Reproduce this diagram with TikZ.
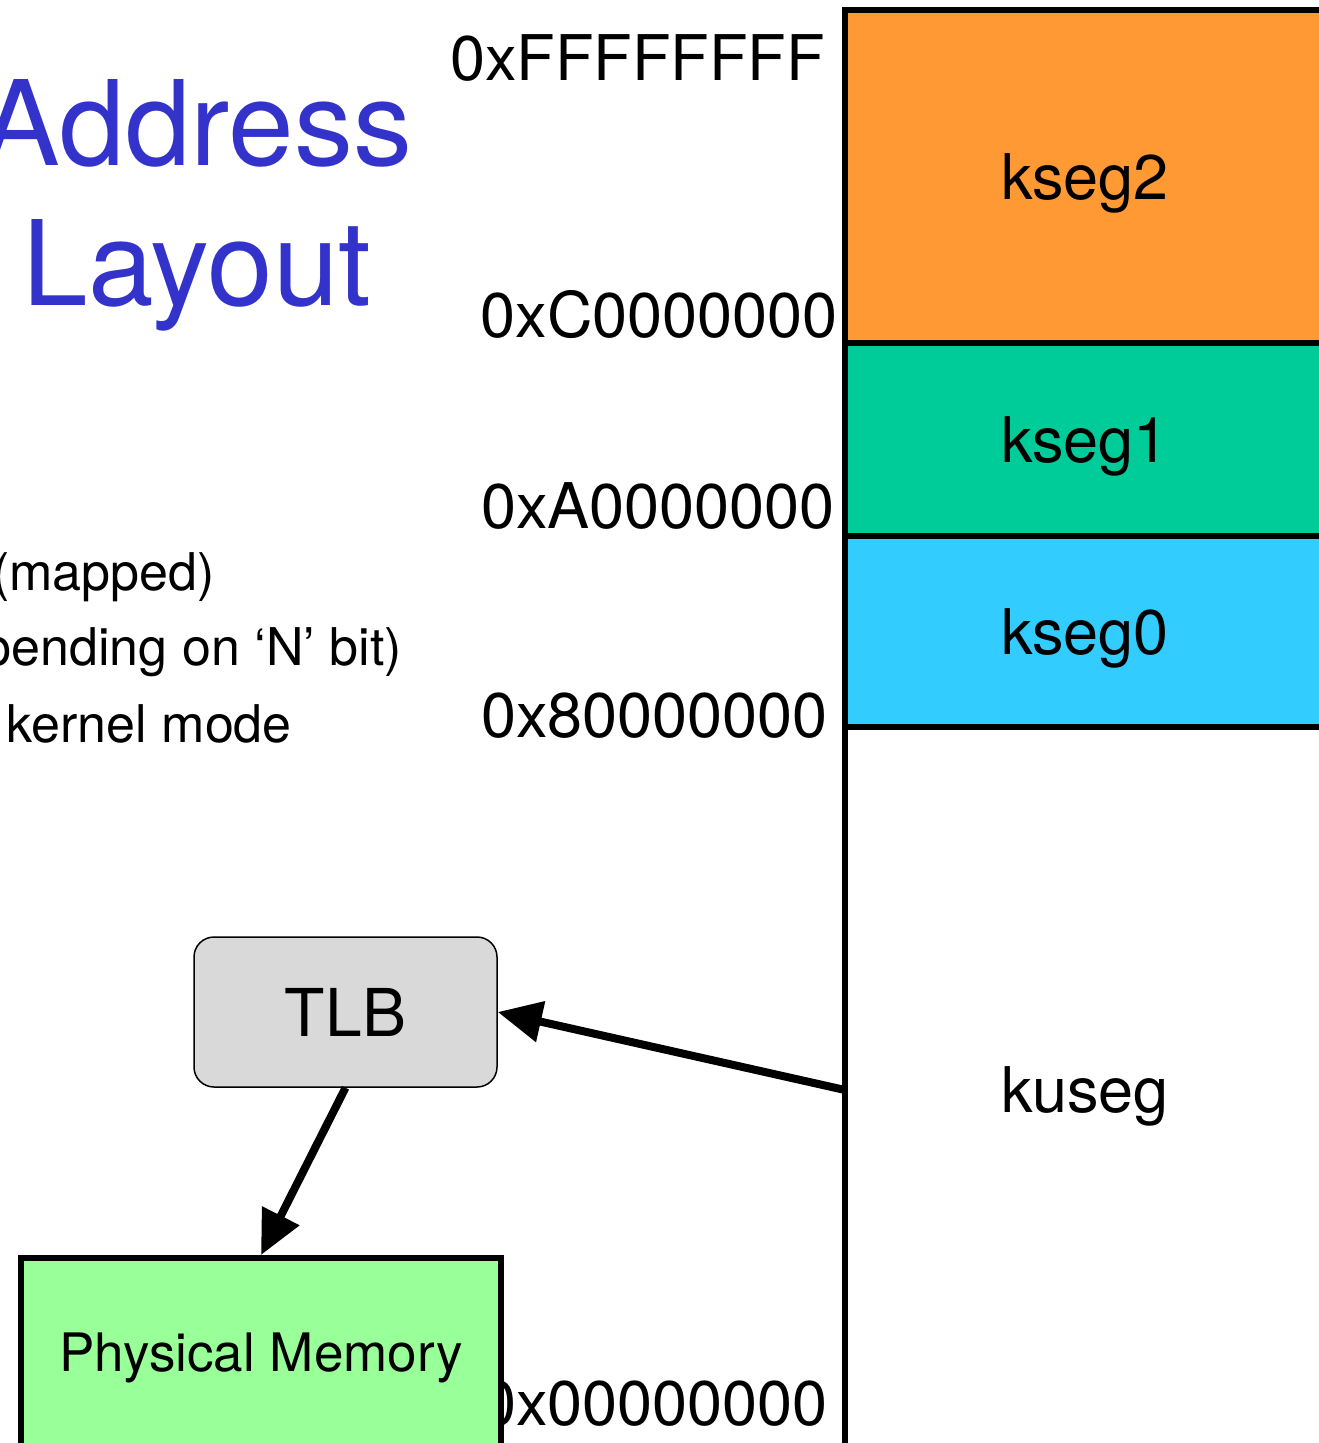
\documentclass[tikz,border=0pt]{standalone}
\usepackage{fontspec}
\setmainfont{TeX Gyre Heros}
\usepackage{tikz}
\usetikzlibrary{positioning,arrows.meta}
\usepackage{xcolor}
\definecolor{segtwo}{HTML}{FF9933}
\definecolor{segone}{HTML}{00CC99}
\definecolor{segzero}{HTML}{33CCFF}
\definecolor{tlbgray}{HTML}{D9D9D9}
\definecolor{physgreen}{HTML}{99FF99}
\definecolor{titleblue}{HTML}{3333CC}

\begin{document}
\begin{tikzpicture}[%
    x=1pt,
    y=-1pt,
    >={Triangle[length=44pt,width=40pt]},
    node distance=0pt,
    seg/.style={%
      rectangle,
      draw,
      line width=6pt,
      outer sep=0pt,
      text depth=0pt,
      minimum width=480pt,
      font=\fontsize{63}{75}\selectfont
    },
    addr/.style={%
      anchor=base east,
      inner sep=0pt,
      font=\fontsize{63}{75}\selectfont
    },
    note/.style={%
      anchor=base east,
      inner sep=0pt,
      font=\fontsize{52}{62}\selectfont
    },
    arr/.style={%
      ->,
      line width=8pt
    }
  ]
    \useasboundingbox (0,0) rectangle (1319,1443);

    % memory map
    \node[seg, fill=segtwo, minimum height=333pt, anchor=north west] (kseg2) at (845,10) {kseg2};
    \node[seg, fill=segone, minimum height=193pt] (kseg1) [below=of kseg2] {kseg1};
    \node[seg, fill=segzero, minimum height=191pt] (kseg0) [below=of kseg1] {kseg0};
    \node[seg, fill=white, minimum height=726pt] (kuseg) [below=of kseg0] {kuseg};

    \node[addr] (aFF) at (825,80)   {0xFFFFFFFF};
    \node[addr] (aC0) at (838,337)  {0xC0000000};
    \node[addr] (aA0) at (835,528)  {0xA0000000};
    \node[addr] (a80) at (828,737)  {0x80000000};
    \node[addr] (a00) at (828,1425) {0x00000000};

    % title and notes
    \node[text=titleblue, align=center, font=\fontsize{118}{140}\selectfont, anchor=base]
      (title) at (197,305) {Address\\Layout};
    \node[note] (n1) at (215,590) {(mapped)};
    \node[note] (n2) at (402,665) {pending on ‘N’ bit)};
    \node[note] (n3) at (292,742) {kernel mode};

    % translation
    \node[draw, fill=tlbgray, line width=1.5pt, rounded corners=20pt,
      minimum width=303pt, minimum height=150pt,
      font=\fontsize{66}{78}\selectfont] (tlb) at (345.5,1012) {TLB};
    \node[draw, fill=physgreen, line width=6pt, minimum width=480pt, minimum height=200pt,
      anchor=north west, font=\fontsize{53}{64}\selectfont] (phys) at (18,1255) {Physical Memory};

    \draw[arr] (kuseg.west) -- (tlb.east);
    \draw[arr] (tlb.south) -- (phys.north);
  \end{tikzpicture}
\end{document}
